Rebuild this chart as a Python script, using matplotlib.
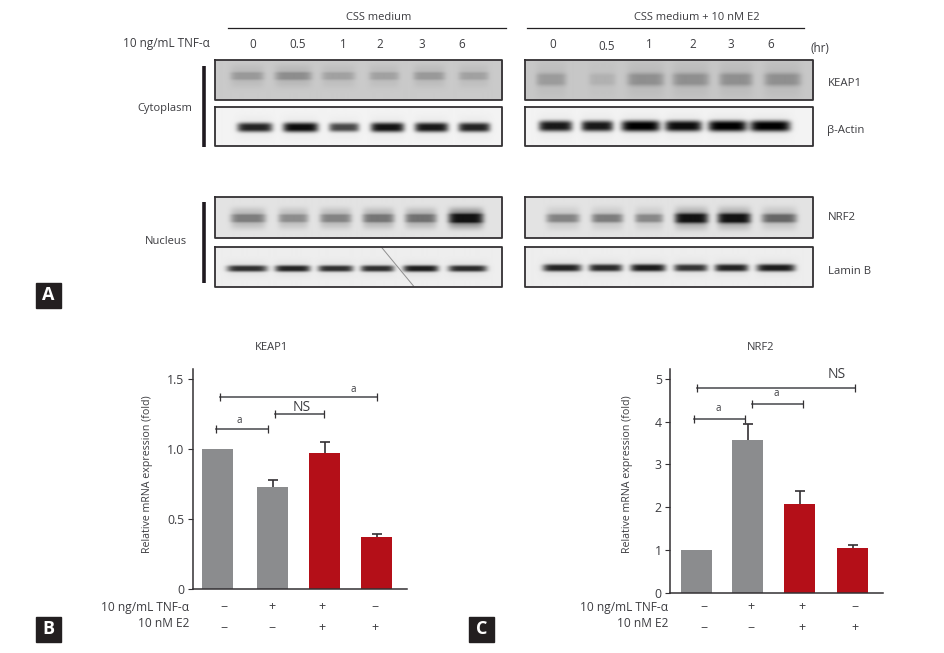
import numpy as np
import matplotlib
matplotlib.use("Agg")
import matplotlib.pyplot as plt

plt.rcParams["font.family"] = ["Open Sans", "DejaVu Sans"]

W, H = 944, 653
TEXT = "#3c3c40"
GREY = "#8b8c8e"
RED = "#b40f18"
DARK = "#2a2628"

# -------------------------
# BAR DATA
# -------------------------
keap_values = [1.0, 0.73, 0.97, 0.37]
keap_err = [0, 0.05, 0.08, 0.025]
nrf_values = [1.0, 3.58, 2.07, 1.05]
nrf_err = [0, 0.37, 0.32, 0.08]
bar_colors = [GREY, GREY, RED, RED]

keap_ticks = [0, 0.5, 1.0, 1.5]
keap_ticklabels = ["0", "0.5", "1.0", "1.5"]
nrf_ticks = [0, 1, 2, 3, 4, 5]

tnf_signs = ["\u2212", "+", "+", "\u2212"]
e2_signs = ["\u2212", "\u2212", "+", "+"]

# brackets: x0, x1 (pixels along the axes), y (data), label, label x, label y (data)
keap_brackets = [
    (216, 268, 1.142, "a", 239, 1.205),
    (274.7, 323.7, 1.249, "NS", 302, 1.30),
    (220, 377, 1.375, "a", 353.7, 1.43),
]
nrf_brackets = [
    (693.7, 745.3, 4.07, "a", 718.7, 4.30),
    (752.3, 803.3, 4.40, "a", 776, 4.65),
    (697.3, 855.3, 4.78, "NS", 836.3, 5.10),
]

# -------------------------
# BLOT DATA (band strength per lane, 0 = none)
# -------------------------
time_left = ["0", "0.5", "1", "2", "3", "6"]
time_right = ["0", "0.5", "1", "2", "3", "6"]

keap1_left = [0.24, 0.30, 0.20, 0.20, 0.24, 0.20]
actin_left = [0.85, 0.95, 0.70, 0.92, 0.90, 0.85]
nrf2_left = [0.45, 0.38, 0.42, 0.48, 0.50, 0.92]
lamin_left = [0.80, 0.85, 0.80, 0.80, 0.88, 0.82]

keap1_right = [0.22, 0.11, 0.28, 0.28, 0.28, 0.28]
actin_right = [0.90, 0.90, 1.0, 0.95, 1.0, 1.0]
nrf2_right = [0.42, 0.45, 0.40, 0.92, 0.92, 0.55]
lamin_right = [0.85, 0.82, 0.88, 0.78, 0.85, 0.88]

# layout of the blots, in pixels
LEFT_BOX = (214.7, 502)
RIGHT_BOX = (524.7, 813)
KEAP_ROW = (60.3, 100)
ACTIN_ROW = (106.7, 145.7)
NRF_ROW = (197, 237.7)
LAMIN_ROW = (246.7, 286.7)


def lanes(origin, zoomed):
    return [origin + v / 3 for v in zoomed]


def blot_image(box, row, centres, widths, band_y, strengths, bg, band_h, halo=0.0):
    """Grey image of one membrane strip, built from the lane strengths."""
    xs = np.arange(box[0], box[1], 0.5)
    ys = np.arange(row[0], row[1], 0.5)
    xx, yy = np.meshgrid(xs, ys)
    img = np.full(xx.shape, bg, dtype=float)
    for c, w, s in zip(centres, widths, strengths):
        across = np.exp(-(np.abs(xx - c) / (w / 6)) ** 6)
        # stronger bands run a little thicker
        h = band_h * (0.75 + 0.3 * s)
        core = np.exp(-(np.abs(yy - band_y) / h) ** 3)
        glow = np.exp(-(np.abs(yy - band_y) / (band_h * 2.5)) ** 4)
        img -= s * across * np.clip(core + halo * glow, 0, 1) * bg
    return np.clip(img, 0, 1)


def draw_blot(ax, box, row, centres, widths, band_y, strengths, bg, band_h, halo=0.0):
    img = blot_image(box, row, centres, widths, band_y, strengths, bg, band_h, halo)
    ax.imshow(img, cmap="gray", vmin=0, vmax=1, aspect="auto", interpolation="bilinear",
              extent=(box[0], box[1], row[1], row[0]), zorder=1)
    ax.plot([box[0], box[1], box[1], box[0], box[0]],
            [row[0], row[0], row[1], row[1], row[0]],
            color="#333033", lw=1.3, zorder=3)


def draw_bars(rect, positions, values, errs, ticks, ticklabels, ymax, brackets):
    left, right, top, bottom = rect
    ax = fig.add_axes([left / W, 1 - bottom / H, (right - left) / W, (bottom - top) / H])
    ax.bar(positions, values, width=31, color=bar_colors, zorder=2)
    for x, v, e in zip(positions, values, errs):
        if e > 0:
            ax.vlines(x, v, v + e, color="#333033", lw=1.2, zorder=1)
            ax.plot([x], [v + e], marker="_", ms=7.5, mew=1.2, color="#333033", zorder=1)
    for x0, x1, y, label, lx, ly in brackets:
        ax.plot([x0, x1], [y, y], color="#55565a", lw=1.2, zorder=3)
        ax.plot([x0, x1], [y, y], ls="", marker="|", ms=5.5, mew=0.9, color="#333033", zorder=3)
        size = 10 if label == "NS" else 7
        ax.text(lx, ly, label, ha="center", va="center", fontsize=size, color=TEXT)
    ax.set_xlim(left, right)
    ax.set_ylim(0, ymax)
    ax.set_xticks([])
    ax.set_yticks(ticks)
    ax.set_yticklabels(ticklabels)
    ax.tick_params(axis="y", length=3.6, width=0.8, pad=2.5, labelsize=8.8,
                   color="#333033", labelcolor=TEXT)
    ax.spines[["top", "right"]].set_visible(False)
    ax.spines[["left", "bottom"]].set_linewidth(1.1)
    ax.spines[["left", "bottom"]].set_color("#333033")
    ax.patch.set_alpha(0)
    return ax


fig = plt.figure(figsize=(W / 100, H / 100), dpi=100)

# overlay in pixel coords for the blots and loose labels
ov = fig.add_axes([0, 0, 1, 1])

# left blots
draw_blot(ov, LEFT_BOX, KEAP_ROW, lanes(200, [140, 278, 413, 550, 685, 818]),
          [100, 110, 100, 90, 95, 90], 76, keap1_left, 0.79, 4.5, 0.3)
draw_blot(ov, LEFT_BOX, ACTIN_ROW, lanes(200, [163, 300, 430, 560, 692, 820]),
          [105, 105, 90, 100, 100, 95], 126.8, actin_left, 0.95, 4.6, 0.03)
draw_blot(ov, LEFT_BOX, NRF_ROW, lanes(200, [143, 278, 405, 533, 660, 795]),
          [105, 90, 95, 95, 95, 105], 218, nrf2_left, 0.89, 4.2, 0.40)
draw_blot(ov, LEFT_BOX, LAMIN_ROW, lanes(200, [140, 276, 405, 530, 660, 800]),
          [120, 105, 105, 100, 105, 115], 268, lamin_left, 0.93, 3.2, 0.05)

# right blots
draw_blot(ov, RIGHT_BOX, KEAP_ROW, lanes(510, [122, 275, 405, 540, 675, 815]),
          [90, 80, 110, 110, 100, 110], 79.5, keap1_right, 0.78, 7.5, 0.2)
draw_blot(ov, RIGHT_BOX, ACTIN_ROW, lanes(510, [135, 260, 390, 518, 650, 778]),
          [100, 95, 115, 110, 115, 120], 125.5, actin_right, 0.95, 5.2, 0.03)
draw_blot(ov, RIGHT_BOX, NRF_ROW, lanes(510, [157, 290, 415, 542, 670, 805]),
          [100, 95, 85, 100, 100, 105], 218, nrf2_right, 0.89, 4.6, 0.25)
draw_blot(ov, RIGHT_BOX, LAMIN_ROW, lanes(510, [155, 285, 412, 540, 662, 795]),
          [115, 100, 105, 100, 100, 115], 267.3, lamin_right, 0.93, 3.6, 0.05)

# scratch on the lamin strip
ov.plot([381.7, 413.5], [247.5, 286], color="#8f8f8f", lw=0.7, zorder=2)

# headers
for x0, x1, label, cx in [(228, 505.7, "CSS medium", 378.7),
                          (526.7, 804.3, "CSS medium + 10 nM E2", 697)]:
    ov.plot([x0, x1], [28, 28], color="#222022", lw=0.9)
    ov.text(cx, 17, label, ha="center", va="center", fontsize=8, color=TEXT)

for label, x in zip(time_left, lanes(200, [159, 294, 430, 539, 665, 786])):
    ov.text(x, 44.5, label, ha="center", va="center", fontsize=8.4, color=TEXT)
for label, x, y in zip(time_right, lanes(510, [129, 290, 418, 547, 661, 782]),
                       [44.5, 47, 44.5, 44.5, 44.5, 44.5]):
    ov.text(x, y, label, ha="center", va="center", fontsize=8.4, color=TEXT)
ov.text(820, 49, "(hr)", ha="center", va="center", fontsize=8.4, color=TEXT)
ov.text(210, 43, "10 ng/mL TNF-\u03b1", ha="right", va="center", fontsize=8.5, color=TEXT)

for label, x, y in [("KEAP1", 827.7, 83), ("\u03b2-Actin", 826.7, 131),
                    ("NRF2", 827.7, 217), ("Lamin B", 827.7, 272)]:
    ov.text(x, y, label, ha="left", va="center", fontsize=8.2, color=TEXT)
ov.text(165, 108, "Cytoplasm", ha="center", va="center", fontsize=8, color=TEXT)
ov.text(166, 241, "Nucleus", ha="center", va="center", fontsize=8, color=TEXT)

# fraction bars
ov.plot([203.5, 203.5], [66, 147], color="#1f1a20", lw=2.6, solid_capstyle="butt")
ov.plot([203.5, 203.5], [202, 283], color="#1f1a20", lw=2.6, solid_capstyle="butt")

# panel letters
for letter, x, y in [("A", 36, 283), ("B", 36, 617), ("C", 469, 617)]:
    ov.fill([x, x + 25, x + 25, x], [y, y, y + 25, y + 25], color="#231f20")
    ov.text(x + 12.5, y + 12.5, letter, ha="center", va="center", fontsize=13,
            fontweight="bold", color="white")

# bar panel labels
ov.text(271, 347.7, "KEAP1", ha="center", va="center", fontsize=8, color=TEXT)
ov.text(761, 347.7, "NRF2", ha="center", va="center", fontsize=8, color=TEXT)
ov.text(147.7, 474, "Relative mRNA expression (fold)", rotation=90, ha="center", va="center",
        fontsize=7.7, color=TEXT)
ov.text(627.7, 474, "Relative mRNA expression (fold)", rotation=90, ha="center", va="center",
        fontsize=7.7, color=TEXT)

for right_x, sign_xs in [(189, lanes(20, [612, 755, 906, 1065])),
                         (668, lanes(460, [731, 873, 1026, 1184]))]:
    ov.text(right_x, 608, "10 ng/mL TNF-\u03b1", ha="right", va="center", fontsize=8.6, color=TEXT)
    ov.text(right_x, 623.7, "10 nM E2", ha="right", va="center", fontsize=8.6, color=TEXT)
    for x, s1, s2 in zip(sign_xs, tnf_signs, e2_signs):
        ov.text(x, 606.7, s1, ha="center", va="center", fontsize=9, color=TEXT)
        ov.text(x, 627.3, s2, ha="center", va="center", fontsize=9, color=TEXT)

ov.set_xlim(0, W)
ov.set_ylim(H, 0)
ov.axis("off")

# bar charts
keap_pos = [217.5, 272.5, 324.5, 376.5]
nrf_pos = [696.5, 747.5, 799.5, 852.5]
draw_bars((193, 406.7, 369.3, 588.7), keap_pos, keap_values, keap_err, keap_ticks,
          keap_ticklabels, 1.572, keap_brackets)
draw_bars((670.3, 883, 369.3, 593), nrf_pos, nrf_values, nrf_err, nrf_ticks,
          [str(t) for t in nrf_ticks], 5.218, nrf_brackets)

fig.savefig("out.png", dpi=100)
plt.close(fig)
